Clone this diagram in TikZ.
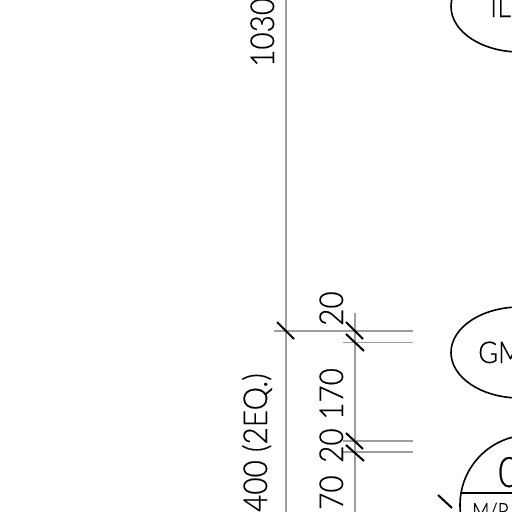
\documentclass[tikz,border=0pt]{standalone}
\usepackage{fontspec}
\setmainfont{Lato Light}[FakeStretch=0.9,FakeBold=0.5]
\tikzset{
  dimline/.style={color=black!38,line width=1.1pt},
  slash/.style={color=black,line width=2pt},
  outline/.style={color=black,line width=1.6pt},
  dimtext/.style={rotate=90,inner sep=0,font=\fontsize{33}{33}\selectfont},
  tagtext/.style={inner sep=0,font=\fontsize{30}{30}\selectfont}
}
\begin{document}
\begin{tikzpicture}[x=1pt,y=-1pt]
  \useasboundingbox (0,0) rectangle (512,512);
  \clip (0,0) rectangle (512,512);
  % dimension lines
  \draw[dimline] (286,0) -- (286,512);
  \draw[dimline] (355,313) -- (355,512);
  \draw[dimline] (274,331) -- (413,331);
  \draw[dimline] (343,342.5) -- (413,342.5);
  \draw[dimline] (343,441) -- (413,441);
  \draw[dimline] (343,452) -- (413,452);
  % ticks
  \draw[slash] (277,322) -- (294,339);
  \draw[slash] (346,322) -- (363,339);
  \draw[slash] (346,334) -- (364,351);
  \draw[slash] (346,433) -- (363,449);
  \draw[slash] (346,445) -- (364,461);
  \draw[slash] (438,495) -- (452,508);
  % tags
  \draw[outline] (520,6.5) ellipse [x radius=69,y radius=45.5];
  \draw[outline] (520,352.5) ellipse [x radius=69,y radius=45.5];
  \draw[outline] (530,505) circle [radius=70];
  \draw[outline] (461,493) -- (512,493);
  % labels
  \node[dimtext,anchor=base west] (len1030) at (274,67) {1030};
  \node[dimtext,anchor=base west] (gapa) at (343,326) {20};
  \node[dimtext,anchor=base west] (len170) at (343,420) {170};
  \node[dimtext,anchor=base west] (gapb) at (343,463) {20};
  \node[dimtext,anchor=base west] (len70) at (343,510) {70};
  \node[dimtext,anchor=base east] (len400) at (267,373) {400 (2EQ.)};
  \node[tagtext,anchor=base west] (tagil) at (490,17) {IL};
  \node[tagtext,anchor=base west] (taggm) at (478,363) {GM};
  \node[inner sep=0,anchor=base west,font=\fontsize{42}{42}\selectfont] (tagc) at (498,487) {0};
  \node[inner sep=0,anchor=base west,font=\fontsize{21}{21}\selectfont] (tagmp) at (472,518) {M/P};
\end{tikzpicture}
\end{document}
